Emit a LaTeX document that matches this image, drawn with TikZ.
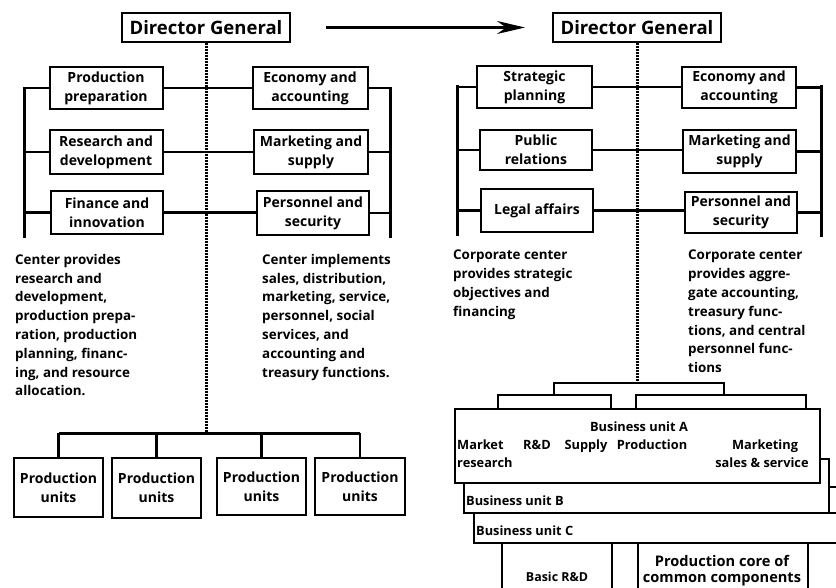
\documentclass[tikz,border=0pt]{standalone}
\usepackage{fontspec}
\setmainfont{Open Sans}
\usetikzlibrary{arrows.meta}
\newcommand\dgfont{\bfseries\fontsize{18.5}{22}\selectfont}
\newcommand\bxfont{\bfseries\fontsize{14}{19}\selectfont}
\newcommand\txfont{\bfseries\fontsize{13.4}{18.8}\selectfont}
\newcommand\smfont{\bfseries\fontsize{12.8}{18}\selectfont}
\newcommand\bsfont{\bfseries\fontsize{12.4}{16}\selectfont}
\newcommand\crfont{\bfseries\fontsize{14.6}{16}\selectfont}
\begin{document}
\begin{tikzpicture}[x=1pt,y=-1pt,
  orgbox/.style={draw, line width=2pt, fill=white, inner sep=0pt, align=center, font=\bxfont},
  dgbox/.style={orgbox, font=\dgfont},
  ubox/.style={draw, line width=2pt, fill=white, inner sep=0pt},
  bus/.style={line width=3pt},
  link/.style={line width=2.4pt},
  dotline/.style={line width=3pt, dash pattern=on 1.8pt off 1.2pt},
  note/.style={inner sep=0pt, align=left, anchor=north west, font=\txfont},
  lbl/.style={inner sep=0pt, font=\smfont},
  transition/.style={line width=2.6pt, shorten <=35pt, shorten >=27pt,
    -{Stealth[length=28pt,width=13pt]}}
]
\useasboundingbox (0,0) rectangle (836,588);
\clip (0,0) rectangle (836,588);

% ---------------- functional organisation ----------------
\node[dgbox, minimum width=168pt, minimum height=29pt] (dgL) at (206,27.5) {Director General};

\node[orgbox, minimum width=113pt, minimum height=42pt] (pp)  at (106,88)    {Production\\preparation};
\node[orgbox, minimum width=113pt, minimum height=44pt] (rd)  at (106,152)   {Research and\\development};
\node[orgbox, minimum width=112pt, minimum height=43pt] (fi)  at (107,212.5) {Finance and\\innovation};
\node[orgbox, minimum width=115pt, minimum height=42pt] (eaL) at (310,88)    {Economy and\\accounting};
\node[orgbox, minimum width=114pt, minimum height=44pt] (msL) at (311,152)   {Marketing and\\supply};
\node[orgbox, minimum width=112pt, minimum height=44pt] (psL) at (313,213)   {Personnel and\\security};

\coordinate (lbT) at (24,87);  \coordinate (lbB) at (24,238);
\coordinate (rbT) at (390,87); \coordinate (rbB) at (390,238);
\draw[bus] (lbT) -- (lbB);
\draw[bus] (rbT) -- (rbB);
\draw[link] (pp.west) -- (pp.west -| lbT);
\draw[link] (rd.west) -- (rd.west -| lbT);
\draw[link] (fi.west) -- (fi.west -| lbT);
\draw[link] (eaL.east) -- (eaL.east -| rbT);
\draw[link] (msL.east) -- (msL.east -| rbT);
\draw[link] (psL.east) -- (psL.east -| rbT);
\draw[link] (pp.east) -- (pp.east -| eaL.west);
\draw[link] (rd.east) -- (rd.east -| msL.west);
\draw[link] (fi.east) -- (fi.east -| psL.west);

\node[note] (noteL1) at (15,254) {Center provides\\research and\\development,\\production prepa-\\ration, production\\planning, financ-\\ing, and resource\\allocation.};
\node[note] (noteL2) at (262,254) {Center implements\\sales, distribution,\\marketing, service,\\personnel, social\\services, and\\accounting and\\treasury functions.};

\coordinate (pjL) at (206,433);
\draw[dotline] (dgL.south) -- (pjL);

\node[orgbox, minimum width=89pt, minimum height=59pt] (pu1) at (58.5,487.5) {Production\\units};
\node[orgbox, minimum width=89pt, minimum height=60pt] (pu2) at (156.5,488)  {Production\\units};
\node[orgbox, minimum width=89pt, minimum height=57pt] (pu3) at (261.5,486.5) {Production\\units};
\node[orgbox, minimum width=90pt, minimum height=57pt] (pu4) at (360,486.5)  {Production\\units};
\draw[bus] (pu1.north |- pjL) -- (pu4.north |- pjL);
\foreach \u in {pu1,pu2,pu3,pu4}
  \draw[link] (\u.north) -- (\u.north |- pjL);

% ---------------- divisional organisation ----------------
\node[dgbox, minimum width=168pt, minimum height=29pt] (dgR) at (637,27.5) {Director General};
\draw[transition] (dgL) -- (dgR);

\node[orgbox, minimum width=115pt, minimum height=42pt] (sp)  at (534.5,87)  {Strategic\\planning};
\node[orgbox, minimum width=112pt, minimum height=40pt] (pr)  at (536,150)   {Public\\relations};
\node[orgbox, minimum width=112pt, minimum height=43pt] (la)  at (537,210.5) {Legal affairs};
\node[orgbox, minimum width=114pt, minimum height=41pt] (eaR) at (739,87.5)  {Economy and\\accounting};
\node[orgbox, minimum width=113pt, minimum height=43pt] (msR) at (739.5,151.5) {Marketing and\\supply};
\node[orgbox, minimum width=112pt, minimum height=41pt] (psR) at (741,212.5) {Personnel and\\security};

\coordinate (lbT2) at (457,85);  \coordinate (lbB2) at (457,236);
\coordinate (rbT2) at (821,85);  \coordinate (rbB2) at (821,237);
\draw[bus] (lbT2) -- (lbB2);
\draw[bus] (rbT2) -- (rbB2);
\draw[link] (sp.west) -- (sp.west -| lbT2);
\draw[link] (pr.west) -- (pr.west -| lbT2);
\draw[link] (la.west) -- (la.west -| lbT2);
\draw[link] (eaR.east) -- (eaR.east -| rbT2);
\draw[link] (msR.east) -- (msR.east -| rbT2);
\draw[link] (psR.east) -- (psR.east -| rbT2);
\draw[link] (sp.east) -- (sp.east -| eaR.west);
\draw[link] (pr.east) -- (pr.east -| msR.west);
\draw[link] (la.east) -- (la.east -| psR.west);

\node[note] (noteR1) at (453,250) {Corporate center\\provides strategic\\objectives and\\financing};
\node[note] (noteR2) at (688,250) {Corporate center\\provides aggre-\\gate accounting,\\treasury func-\\tions, and central\\personnel func-\\tions};

% stacked business units
\node[ubox, anchor=north west, minimum width=380pt, minimum height=30pt] (buC) at (473,512) {};
\node[ubox, anchor=north west, minimum width=365pt, minimum height=54pt] (buB) at (463,458) {};
\node[ubox, anchor=north west, minimum width=365pt, minimum height=74pt] (buA) at (454,408) {};

\node[ubox, anchor=north west, minimum width=110pt, minimum height=60pt] (basic) at (501,542) {};
\node[ubox, anchor=north west, minimum width=170pt, minimum height=60pt] (core)  at (637,542) {};

\coordinate (stub) at (836,487);
\draw[link] (stub -| buB.east) -- (stub);

\coordinate (tL) at (554,383); \coordinate (tR) at (724,383);
\coordinate (bL1) at (498,395); \coordinate (bL2) at (611,395);
\coordinate (bR1) at (636,395); \coordinate (bR2) at (806,395);
\draw[dotline] (dgR.south) -- (dgR.south |- tL);
\draw[link] (tL |- bL1) -- (tL) -- (tR) -- (tR |- bR1);
\draw[link] (bL1 |- buA.north) -- (bL1) -- (bL2) -- (bL2 |- buA.north);
\draw[link] (bR1 |- buA.north) -- (bR1) -- (bR2) -- (bR2 |- buA.north);

\node[lbl, anchor=base] (tA) at (639,431) {Business unit A};
\node[lbl, anchor=base west] (tMk) at (457,449) {Market};
\node[lbl, anchor=base west] (tRs) at (457,467) {research};
\node[lbl, anchor=base] (tRD) at (537,449) {R\&D};
\node[lbl, anchor=base] (tSu) at (586,449) {Supply};
\node[lbl, anchor=base] (tPr) at (652,449) {Production};
\node[lbl, anchor=base] (tMs) at (765,449) {Marketing};
\node[lbl, anchor=base] (tSs) at (762,467) {sales \& service};
\node[lbl, anchor=base west] (tB) at (466,505) {Business unit B};
\node[lbl, anchor=base west] (tC) at (476,535) {Business unit C};

\node[inner sep=0pt, font=\bsfont, anchor=base] (tBasic) at (557,581) {Basic R\&D};
\node[inner sep=0pt, font=\crfont, anchor=base] (tCore1) at (722,566) {Production core of};
\node[inner sep=0pt, font=\crfont, anchor=base] (tCore2) at (722,582) {common components};
\end{tikzpicture}
\end{document}
